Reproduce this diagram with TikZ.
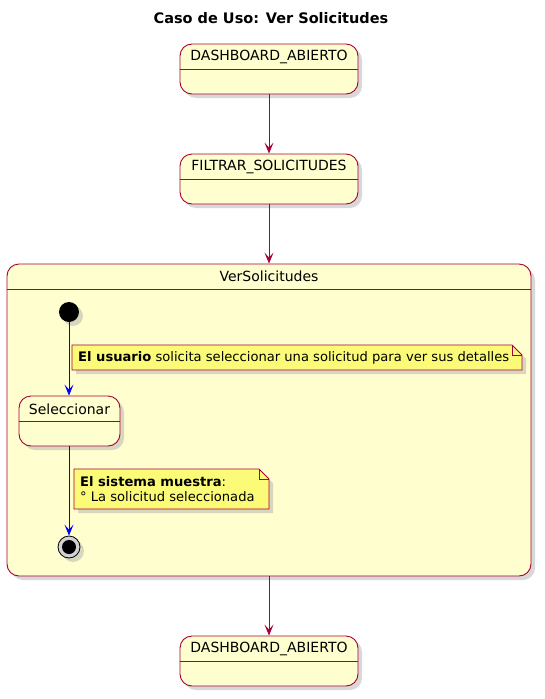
\documentclass[tikz,border=0pt]{standalone}
\usepackage{fontspec}
\setmainfont{DejaVu Sans}
\usetikzlibrary{positioning,arrows.meta,shadows,calc}
\definecolor{umlred}{HTML}{A80036}
\definecolor{statefill}{HTML}{FEFECE}
\definecolor{notefill}{HTML}{FBFB77}
\tikzset{
	state/.style={draw=umlred, line width=0.9pt, fill=statefill, rounded corners=12pt, inner sep=0pt,
		drop shadow={shadow xshift=4pt, shadow yshift=-4pt, fill=black!30, opacity=0.5}},
	simple/.style={state, minimum width=178pt, minimum height=50pt},
	statename/.style={font=\fontsize{14}{16}\selectfont, inner sep=0pt},
	split/.style={draw=umlred, line width=0.9pt},
	trans/.style={draw=umlred, line width=0.8pt, -{Stealth[length=11pt, width=9pt, inset=5pt]}},
	inner/.style={draw=blue, line width=0.8pt, -{Stealth[length=11pt, width=9pt, inset=5pt]}},
	note/.style={draw=umlred, line width=0.8pt, fill=notefill, drop shadow={shadow xshift=4pt, shadow yshift=-4pt, fill=black!30, opacity=0.5}},
	notetext/.style={font=\fontsize{13.1}{15.5}\selectfont, align=left, inner sep=0pt, anchor=west}
}

\begin{document}
\begin{tikzpicture}[x=1pt, y=-1pt]
	\useasboundingbox (0,0) rectangle (544,699);
	\node[font=\bfseries\fontsize{14.5}{17}\selectfont] (title) at (271,18) {Caso de Uso: Ver Solicitudes};

	% estados de arriba
	\node[simple] (dash1) at (269,69) {};
	\node[statename] at ([yshift=-13pt]dash1.north) {DASHBOARD\_ABIERTO};
	\draw[split] ([yshift=-26pt]dash1.north west) -- ([yshift=-26pt]dash1.north east);

	\node[simple] (filtrar) at (269,179) {};
	\node[statename] at ([yshift=-13pt]filtrar.north) {FILTRAR\_SOLICITUDES};
	\draw[split] ([yshift=-26pt]filtrar.north west) -- ([yshift=-26pt]filtrar.north east);

	% estado compuesto
	\node[state, minimum width=524pt, minimum height=312pt] (ver) at (269,420) {};
	\node[statename] at ([yshift=-13pt]ver.north) {VerSolicitudes};
	\draw[split] ([yshift=-26pt]ver.north west) -- ([yshift=-26pt]ver.north east);

	\node[circle, fill=black, minimum size=20pt, inner sep=0pt,
		drop shadow={shadow xshift=4pt, shadow yshift=-4pt, fill=black!30, opacity=0.5}] (ini) at (69,312) {};

	\node[state, minimum width=101pt, minimum height=50pt] (sel) at (69.5,421) {};
	\node[statename] at ([yshift=-14pt]sel.north) {Seleccionar};
	\draw[split] ([yshift=-26pt]sel.north west) -- ([yshift=-26pt]sel.north east);

	\node[circle, draw=black, line width=0.8pt, fill=gray!35, minimum size=22pt, inner sep=0pt,
		drop shadow={shadow xshift=4pt, shadow yshift=-4pt, fill=black!30, opacity=0.5}] (fin) at (69,547) {};
	\node[circle, fill=black, minimum size=14pt, inner sep=0pt] at (fin) {};

	% notas
	\coordinate (n1a) at (72,345);
	\coordinate (n1b) at (522,370);
	\draw[note] (n1a) -- ($(n1a -| n1b)+(-10,0)$) -- ($(n1a -| n1b)+(0,10)$) -- (n1b) -- (n1a |- n1b) -- cycle;
	\draw[umlred, line width=0.8pt] ($(n1a -| n1b)+(-10,0)$) -- ++(0,10) -- ++(10,0);
	\node[notetext] (note1) at ($(n1a)!0.5!(n1a |- n1b)+(6,0)$) {\textbf{El usuario} solicita seleccionar una solicitud para ver sus detalles};

	\coordinate (n2a) at (74,469);
	\coordinate (n2b) at (269,509);
	\draw[note] (n2a) -- ($(n2a -| n2b)+(-10,0)$) -- ($(n2a -| n2b)+(0,10)$) -- (n2b) -- (n2a |- n2b) -- cycle;
	\draw[umlred, line width=0.8pt] ($(n2a -| n2b)+(-10,0)$) -- ++(0,10) -- ++(10,0);
	\node[notetext] (note2) at ($(n2a)!0.5!(n2a |- n2b)+(6,0)$) {\textbf{El sistema muestra}:\\° La solicitud seleccionada};

	% estado final
	\node[simple] (dash2) at (269,661) {};
	\node[statename] at ([yshift=-13pt]dash2.north) {DASHBOARD\_ABIERTO};
	\draw[split] ([yshift=-26pt]dash2.north west) -- ([yshift=-26pt]dash2.north east);

	% transiciones
	\draw[trans] (dash1) -- (filtrar);
	\draw[trans] (filtrar) -- (ver);
	\draw[trans] (ver) -- (dash2);
	\draw[inner] (ini) -- (ini |- sel.north);
	\draw[inner] (sel.south -| fin) -- (fin);
\end{tikzpicture}
\end{document}
